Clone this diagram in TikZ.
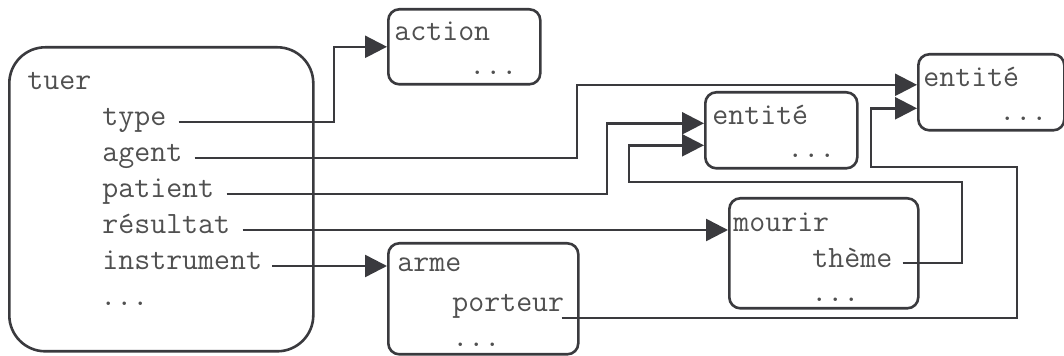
\documentclass[tikz,border=0pt]{standalone}
\usepackage{fontspec}
\usepackage{tikz}
\usetikzlibrary{arrows.meta}
\usepackage{xcolor}
\definecolor{framegray}{RGB}{58, 58, 62}
\definecolor{slotgray}{RGB}{80, 80, 80}

\begin{document}
\begin{tikzpicture}[x=0.5pt, y=-0.5pt]
    % Define styles
    \tikzstyle{frame} = [draw=framegray, line width=1.3pt, rounded corners=5.5pt, anchor=north west, inner sep=0pt]
    \tikzstyle{slot} = [text=slotgray, font=\fontsize{15.5}{18}\selectfont\ttfamily, anchor=base west, inner sep=0pt, text height=6pt, text depth=2pt]
    \tikzstyle{link} = [draw=framegray, line width=1.25pt, -{Triangle[length=11pt, width=11pt]}]

    \useasboundingbox (0,0) rectangle (1064,356);

    % Frames
    \node[frame, rounded corners=18pt, minimum width=152pt, minimum height=152pt] (tuerbox) at (8,46) {};
    \node[frame, minimum width=76pt, minimum height=37.5pt] (actionbox) at (387,8) {};
    \node[frame, minimum width=76pt, minimum height=38pt] (emidbox) at (704,91) {};
    \node[frame, minimum width=73pt, minimum height=38pt] (erightbox) at (917,53) {};
    \node[frame, minimum width=94.5pt, minimum height=55pt] (mourirbox) at (728,197) {};
    \node[frame, minimum width=95pt, minimum height=55.5pt] (armebox) at (387,242) {};

    % Slots of each frame
    \node[slot] (tuer) at (27,90) {tuer};
    \node[slot] (type) at (102,126) {type};
    \node[slot] (agent) at (102,162) {agent};
    \node[slot] (patient) at (102,198) {patient};
    \node[slot] (resultat) at (102,234) {résultat};
    \node[slot] (instrument) at (102,270) {instrument};
    \node[slot] (tuerdots) at (100,306) {...};

    \node[slot] (action) at (394,41) {action};
    \node[slot] (actiondots) at (469,75) {...};

    \node[slot] (emid) at (712,125) {entité};
    \node[slot] (emiddots) at (787,158) {...};

    \node[slot] (eright) at (923,87) {entité};
    \node[slot] (erightdots) at (999,121) {...};

    \node[slot] (mourir) at (733,232) {mourir};
    \node[slot] (theme) at (812,268) {thème};
    \node[slot] (mourirdots) at (811,302) {...};

    \node[slot] (arme) at (397,272) {arme};
    \node[slot] (porteur) at (452,312) {porteur};
    \node[slot] (armedots) at (452,347) {...};

    % Links between slots and frames
    \draw[link] ([xshift=6pt]type.east) -| ([xshift=-26.5pt]actionbox.west) -- (actionbox.west);
    \draw[link] ([xshift=6pt]agent.east) -| ([xshift=-170pt, yshift=3.75pt]erightbox.west) -- ([yshift=3.75pt]erightbox.west);
    \draw[link] ([xshift=6pt]patient.east) -| ([xshift=-48.5pt, yshift=3.5pt]emidbox.west) -- ([yshift=3.5pt]emidbox.west);
    \draw[link] ([xshift=6pt]resultat.east) -- (resultat.east -| mourirbox.west);
    \draw[link] ([xshift=5pt]instrument.east) -- (instrument.east -| armebox.west);
    \draw[link] ([xshift=5pt, yshift=0.5pt]theme.east) -| (962,182) -| ([xshift=-37.5pt, yshift=-7.5pt]emidbox.west) -- ([yshift=-7.5pt]emidbox.west);
    \draw[link] ([xshift=-1.5pt, yshift=-3pt]porteur.base east) -| (1017,167) -| ([xshift=-23pt, yshift=-8pt]erightbox.west) -- ([yshift=-8pt]erightbox.west);
\end{tikzpicture}
\end{document}
